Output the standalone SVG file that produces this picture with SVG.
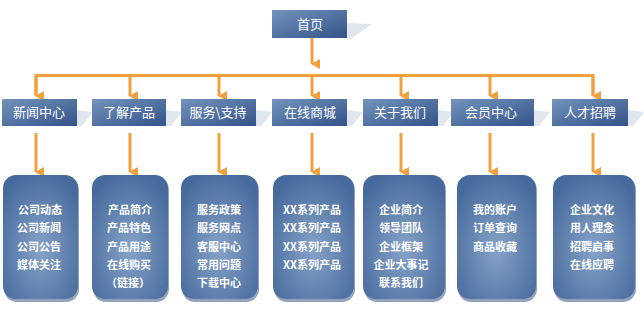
<svg xmlns="http://www.w3.org/2000/svg" width="644" height="326" viewBox="0 0 644 326">
<defs>
<linearGradient id="g2" x1="0" y1="0" x2="1" y2="1">
<stop offset="0" stop-color="#7393bc"/>
<stop offset="1" stop-color="#33538a"/>
</linearGradient>
<radialGradient id="g3" cx="0.5" cy="0.6" r="0.65">
<stop offset="0" stop-color="#86a3c8"/>
<stop offset="0.6" stop-color="#5f80ad"/>
<stop offset="1" stop-color="#466a9c"/>
</radialGradient>
<linearGradient id="sh3" x1="0" y1="0" x2="0" y2="1">
<stop offset="0" stop-color="#3a5783"/>
<stop offset="1" stop-color="#2d466e"/>
</linearGradient>
<marker id="ah" viewBox="0 0 10 9" refX="5" refY="8" markerWidth="10" markerHeight="9" markerUnits="userSpaceOnUse" orient="auto-start-reverse">
<path d="M0,0 L10,0 L5,9 Z" fill="#f2a03e"/>
</marker>
</defs>
<style>
.l1{fill:url(#g2)}
.l3{fill:url(#g3)}
.sh{fill:#d3dbe6;opacity:0.7}
.sh3{fill:#3b5784;opacity:0.55}
.t{font-family:"Noto Sans CJK SC","Noto Sans",sans-serif;fill:#ffffff;text-anchor:middle;font-weight:bold}
.t2{font-size:13px;font-weight:normal}
.t3{font-size:11px}
.c{stroke:#f2a03e;stroke-width:3;fill:none}
.ca{stroke:#f2a03e;stroke-width:3;fill:none;marker-end:url(#ah)}
</style>
<rect width="644" height="326" fill="#ffffff"/>
<g id="connectors">
<line class="ca" x1="312" y1="38" x2="312" y2="64"/>
<polyline class="c" points="36,95 36,75.5 593,75.5 593,95"/>
<line class="ca" x1="36" y1="76" x2="36" y2="96"/>
<line class="ca" x1="130" y1="76" x2="130" y2="96"/>
<line class="ca" x1="219" y1="76" x2="219" y2="96"/>
<line class="ca" x1="312" y1="76" x2="312" y2="96"/>
<line class="ca" x1="401" y1="76" x2="401" y2="96"/>
<line class="ca" x1="490" y1="76" x2="490" y2="96"/>
<line class="ca" x1="593" y1="76" x2="593" y2="96"/>
<line class="ca" x1="36" y1="133" x2="36" y2="172"/>
<line class="ca" x1="130" y1="133" x2="130" y2="172"/>
<line class="ca" x1="219" y1="133" x2="219" y2="172"/>
<line class="ca" x1="312" y1="133" x2="312" y2="172"/>
<line class="ca" x1="401" y1="133" x2="401" y2="172"/>
<line class="ca" x1="490" y1="133" x2="490" y2="172"/>
<line class="ca" x1="593" y1="133" x2="593" y2="172"/>
</g>
<g id="home">
<polygon class="sh" points="347,23 372,24 351,39 347,39"/>
<rect class="l1" x="272" y="10" width="75" height="28"/>
<text class="t t2" x="310" y="29">首页</text>
</g>
<g id="n1">
<polygon class="sh" points="77,110 93,112 82,126 77,126"/>
<rect class="l1" x="2" y="99" width="75" height="27"/>
<text class="t t2" x="39" y="117">新闻中心</text>
</g>
<g id="n2">
<polygon class="sh" points="166,110 182,112 171,126 166,126"/>
<rect class="l1" x="92" y="99" width="74" height="27"/>
<text class="t t2" x="129" y="117">了解产品</text>
</g>
<g id="n3">
<polygon class="sh" points="256,110 272,112 261,126 256,126"/>
<rect class="l1" x="181" y="99" width="75" height="27"/>
<text class="t t2" x="218" y="117">服务\支持</text>
</g>
<g id="n4">
<polygon class="sh" points="347,110 363,112 352,126 347,126"/>
<rect class="l1" x="272" y="99" width="75" height="27"/>
<text class="t t2" x="310" y="117">在线商城</text>
</g>
<g id="n5">
<polygon class="sh" points="438,110 454,112 443,126 438,126"/>
<rect class="l1" x="363" y="99" width="75" height="27"/>
<text class="t t2" x="400" y="117">关于我们</text>
</g>
<g id="n6">
<polygon class="sh" points="534,110 550,112 539,126 534,126"/>
<rect class="l1" x="451" y="99" width="83" height="27"/>
<text class="t t2" x="491" y="117">会员中心</text>
</g>
<g id="n7">
<polygon class="sh" points="628,110 644,112 633,126 628,126"/>
<rect class="l1" x="552" y="99" width="76" height="27"/>
<text class="t t2" x="590" y="117">人才招聘</text>
</g>
<g id="b1">
<rect class="sh3" x="4" y="177" width="75" height="125" rx="13"/>
<rect class="l3" x="3" y="175" width="75" height="124" rx="13"/>
<text class="t t3" x="40" y="214">公司动态</text>
<text class="t t3" x="39" y="232">公司新闻</text>
<text class="t t3" x="39" y="251">公司公告</text>
<text class="t t3" x="39" y="269">媒体关注</text>
</g>
<g id="b2">
<rect class="sh3" x="93" y="177" width="76" height="125" rx="13"/>
<rect class="l3" x="92" y="175" width="76" height="124" rx="13"/>
<text class="t t3" x="130" y="214">产品简介</text>
<text class="t t3" x="129" y="232">产品特色</text>
<text class="t t3" x="129" y="251">产品用途</text>
<text class="t t3" x="129" y="269">在线购买</text>
<text class="t t3" x="128" y="287">（链接）</text>
</g>
<g id="b3">
<rect class="sh3" x="182" y="177" width="77" height="125" rx="13"/>
<rect class="l3" x="181" y="175" width="77" height="124" rx="13"/>
<text class="t t3" x="219" y="214">服务政策</text>
<text class="t t3" x="219" y="232">服务网点</text>
<text class="t t3" x="219" y="251">客服中心</text>
<text class="t t3" x="219" y="269">常用问题</text>
<text class="t t3" x="219" y="287">下载中心</text>
</g>
<g id="b4">
<rect class="sh3" x="274" y="177" width="81" height="125" rx="13"/>
<rect class="l3" x="273" y="175" width="81" height="124" rx="13"/>
<text class="t t3" x="312" y="214">XX系列产品</text>
<text class="t t3" x="312" y="232">XX系列产品</text>
<text class="t t3" x="312" y="251">XX系列产品</text>
<text class="t t3" x="312" y="269">XX系列产品</text>
</g>
<g id="b5">
<rect class="sh3" x="364" y="177" width="82" height="125" rx="13"/>
<rect class="l3" x="363" y="175" width="82" height="124" rx="13"/>
<text class="t t3" x="401" y="214">企业简介</text>
<text class="t t3" x="401" y="232">领导团队</text>
<text class="t t3" x="401" y="251">企业框架</text>
<text class="t t3" x="401" y="269">企业大事记</text>
<text class="t t3" x="401" y="287">联系我们</text>
</g>
<g id="b6">
<rect class="sh3" x="458" y="177" width="79" height="125" rx="13"/>
<rect class="l3" x="457" y="175" width="79" height="124" rx="13"/>
<text class="t t3" x="495" y="214">我的账户</text>
<text class="t t3" x="495" y="232">订单查询</text>
<text class="t t3" x="495" y="251">商品收藏</text>
</g>
<g id="b7">
<rect class="sh3" x="554" y="177" width="82" height="125" rx="13"/>
<rect class="l3" x="553" y="175" width="82" height="124" rx="13"/>
<text class="t t3" x="592" y="214">企业文化</text>
<text class="t t3" x="592" y="232">用人理念</text>
<text class="t t3" x="592" y="251">招聘启事</text>
<text class="t t3" x="592" y="269">在线应聘</text>
</g>
</svg>
